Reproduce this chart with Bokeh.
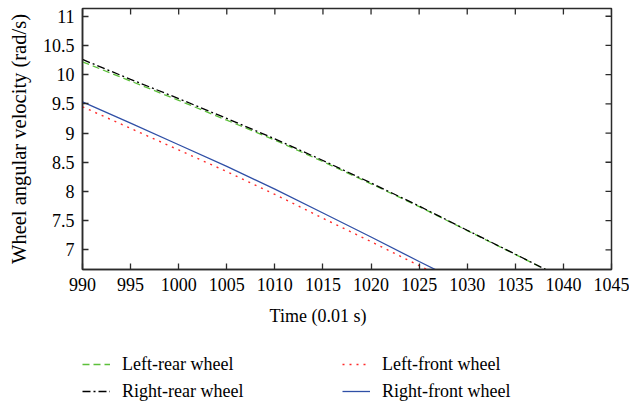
import math
from bokeh.plotting import figure
from bokeh.layouts import column
from bokeh.models import (LinearAxis, FixedTicker, CustomJSTickFormatter, Range1d,
                          Legend, LegendItem, Label)
from bokeh.embed import file_html
from bokeh.resources import INLINE

# ---- data ----
time = [990, 995, 1000, 1005, 1010, 1015, 1020, 1025, 1030, 1035, 1040]
left_rear = [10.22, 9.89, 9.56, 9.22, 8.88, 8.51, 8.13, 7.74, 7.33, 6.92, 6.51]
right_rear = [10.26, 9.92, 9.59, 9.25, 8.90, 8.53, 8.145, 7.75, 7.335, 6.925, 6.51]
left_front = [9.45, 9.08, 8.71, 8.34, 7.95, 7.54, 7.14, 6.73, 6.32, 5.91, 5.50]
right_front = [9.535, 9.17, 8.80, 8.43, 8.04, 7.63, 7.22, 6.80, 6.39, 5.98, 5.57]

x_ticks = [990, 995, 1000, 1005, 1010, 1015, 1020, 1025, 1030, 1035, 1040, 1045]
y_ticks = [7, 7.5, 8, 8.5, 9, 9.5, 10, 10.5, 11]
x_min, x_max = 990, 1045
y_min, y_max = 6.663, 11.133

series_names = ["Left-rear wheel", "Right-rear wheel", "Left-front wheel", "Right-front wheel"]
x_title = "Time (0.01 s)"
y_title = "Wheel angular velocity (rad/s)"

FONT = "'Liberation Serif', serif"
AX_COLOR = "#2b2b2b"
styles = [dict(line_color="#5cc03a", line_width=1.3, line_dash="7 4"),
          dict(line_color="black", line_width=1.3, line_dash="8 3 2 3"),
          dict(line_color="#ff2a2a", line_width=1.4, line_dash="2 5"),
          dict(line_color="#2f4fa6", line_width=1.3)]
series = [left_rear, right_rear, left_front, right_front]

# ---------------- main plot ----------------
p = figure(width=629, height=300, output_backend="svg", toolbar_location=None,
           x_range=Range1d(x_min, x_max), y_range=Range1d(y_min, y_max),
           min_border_left=82, min_border_right=18, min_border_top=8, min_border_bottom=31,
           x_axis_location=None, y_axis_location=None)
p.outline_line_color = AX_COLOR
p.outline_line_width = 1.5
p.xgrid.visible = False
p.ygrid.visible = False
p.background_fill_color = "white"
p.border_fill_color = "white"

fmt = CustomJSTickFormatter(code="return tick.toString();")


def style_axis(ax):
    ax.axis_line_color = AX_COLOR
    ax.axis_line_width = 1.5
    ax.major_tick_line_color = AX_COLOR
    ax.major_tick_line_width = 1.3
    ax.major_tick_in = 6
    ax.major_tick_out = 0
    ax.minor_tick_line_color = None
    ax.major_label_text_font = FONT
    ax.major_label_text_font_size = "18px"
    ax.major_label_text_color = "black"


xb = LinearAxis(ticker=FixedTicker(ticks=x_ticks))
style_axis(xb)
xb.major_label_standoff = 8
p.add_layout(xb, "below")

yl = LinearAxis(ticker=FixedTicker(ticks=y_ticks), formatter=fmt)
style_axis(yl)
yl.major_label_standoff = 8
yl.axis_label = y_title
yl.axis_label_text_font = FONT
yl.axis_label_text_font_size = "20.5px"
yl.axis_label_text_font_style = "normal"
yl.axis_label_text_color = "black"
yl.axis_label_standoff = 10
p.add_layout(yl, "left")

# inward ticks on the top and right edges of the frame
p.scatter(x_ticks, [y_max] * len(x_ticks), marker="dash", size=12, angle=math.pi / 2,
          line_color=AX_COLOR, line_width=1.3)
p.scatter([x_max] * len(y_ticks), y_ticks, marker="dash", size=12,
          line_color=AX_COLOR, line_width=1.3)

for ys, st in zip(series, styles):
    p.line(time, ys, **st)

# ---------------- x title + legend strip ----------------
# this figure's frame is aligned with the main frame (x 82..611 px)
q = figure(width=629, height=106, output_backend="svg", toolbar_location=None,
           x_range=Range1d(82, 611), y_range=Range1d(0, 106),
           min_border_left=0, min_border_right=0, min_border_top=0, min_border_bottom=0,
           x_axis_location=None, y_axis_location=None)
q.outline_line_color = None
q.xgrid.visible = False
q.ygrid.visible = False
q.background_fill_color = "white"
q.border_fill_color = "white"

q.add_layout(Label(x=317.5, y=91, text=x_title, text_align="center",
                   text_baseline="middle", text_font=FONT, text_font_size="18px",
                   text_color="black"))

# legend handles: same series, drawn into a range where they are not visible
handles = []
for ys, st in zip(series, styles):
    handles.append(q.line(time, ys, **st))


def make_legend(items, loc):
    lg = Legend(items=items, location=loc)
    lg.border_line_color = None
    lg.background_fill_alpha = 0
    lg.padding = 0
    lg.margin = 0
    lg.spacing = 3
    lg.glyph_width = 28
    lg.glyph_height = 24
    lg.label_height = 24
    lg.label_standoff = 12
    lg.label_text_font = FONT
    lg.label_text_font_size = "18px"
    lg.label_text_color = "black"
    return lg


q.add_layout(make_legend([LegendItem(label=series_names[0], renderers=[handles[0]]),
                          LegendItem(label=series_names[1], renderers=[handles[1]])],
                         (0, 3)))
q.add_layout(make_legend([LegendItem(label=series_names[2], renderers=[handles[2]]),
                          LegendItem(label=series_names[3], renderers=[handles[3]])],
                         (260, 3)))

layout = column(p, q, spacing=0)
open("out.html", "w").write(file_html(layout, INLINE))
